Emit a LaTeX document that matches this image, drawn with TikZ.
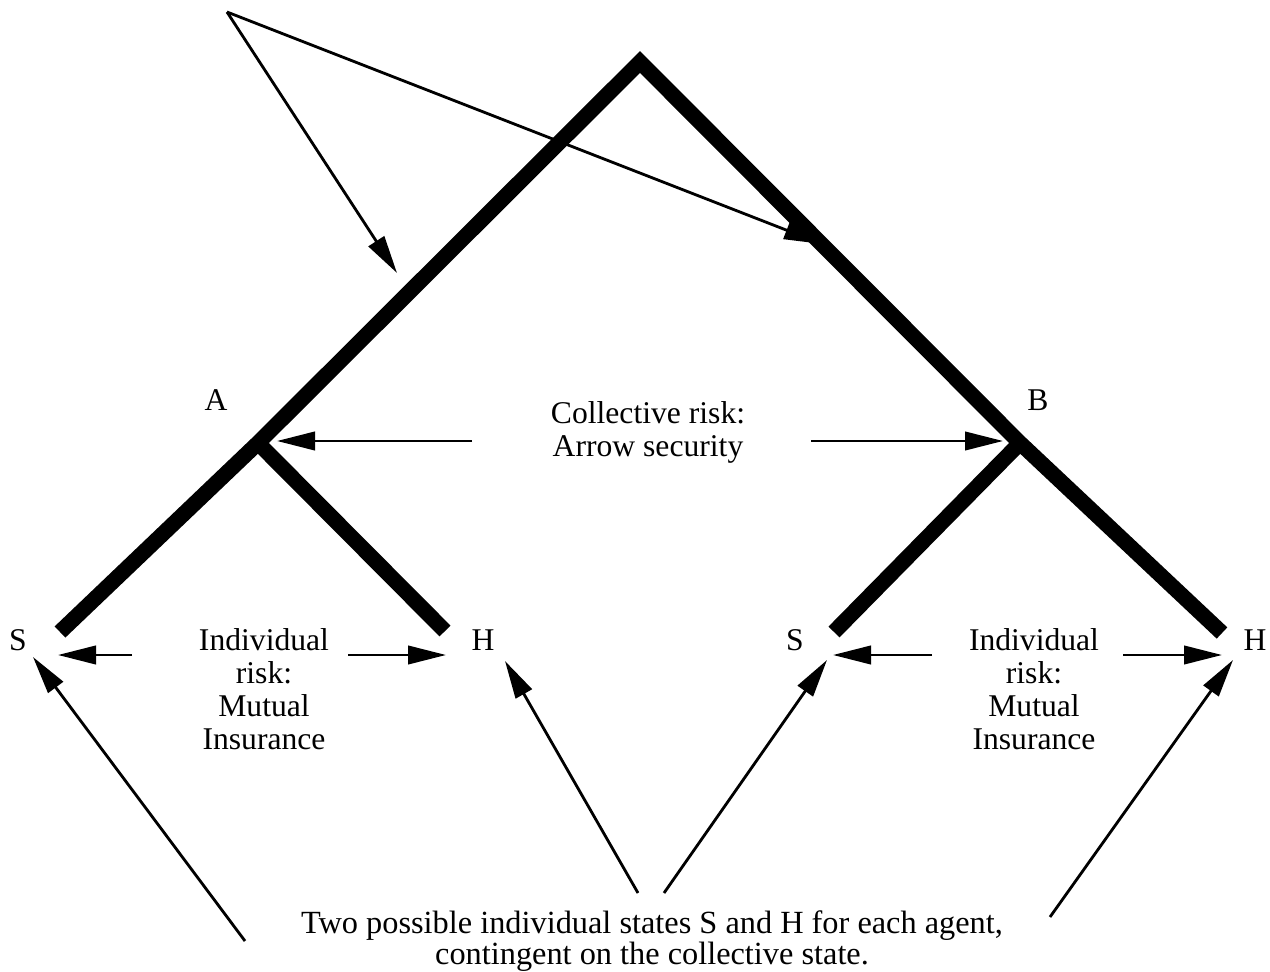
\documentclass[tikz,border=0pt]{standalone}
\usepackage{fontspec}
\setmainfont{Liberation Serif}
\usepackage{tikz}
\usetikzlibrary{arrows.meta}

\begin{document}
\begin{tikzpicture}[x=0.25mm,y=-0.25mm,
        branch/.style={line width=11pt,line join=miter},
        pointer/.style={line width=2pt,-{Triangle[length=9.5mm,width=4.6mm]}},
        lbl/.style={font=\fontsize{22.5}{23.5}\selectfont,inner sep=0pt},
        note/.style={font=\fontsize{22.5}{23.5}\selectfont,align=center,inner sep=0pt}]
        \useasboundingbox (0,0) rectangle (1270,972);

        \coordinate (top) at (640,62);
        \coordinate (A) at (258,443);
        \coordinate (B) at (1020,443);
        \coordinate (SA) at (60,632);
        \coordinate (HA) at (445,631);
        \coordinate (SB) at (834,632);
        \coordinate (HB) at (1222,633);

        \draw[branch] (SA) -- (A) -- (top) -- (B) -- (HB);
        \draw[branch] (A) -- (HA);
        \draw[branch] (B) -- (SB);

        \node[lbl] (labA) at (216,400) {A};
        \node[lbl] (labB) at (1038,400) {B};
        \node[lbl] (labSA) at (18,640) {S};
        \node[lbl] (labHA) at (483,640) {H};
        \node[lbl] (labSB) at (795,640) {S};
        \node[lbl] (labHB) at (1255,640) {H};

        \node[note] (coll) at (648,432) {Collective risk:\\Arrow security};
        \node[note] (indA) at (264,689) {Individual\\risk:\\Mutual\\Insurance};
        \node[note] (indB) at (1034,689) {Individual\\risk:\\Mutual\\Insurance};
        \node[note,font=\fontsize{23}{20}\selectfont] (foot) at (652,941)
            {Two possible individual states S and H for each agent,\\contingent on the collective state.};

        % collective risk
        \coordinate (cl) at (472,441);
        \coordinate (cr) at (811,441);
        \coordinate (tA) at (277,441);
        \coordinate (tB) at (1003,441);
        \draw[pointer] (cl) -- (tA);
        \draw[pointer] (cr) -- (tB);

        % individual risk
        \coordinate (al) at (132,655);
        \coordinate (ar) at (348,655);
        \coordinate (bl) at (932,655);
        \coordinate (br) at (1123,655);
        \coordinate (tSA) at (58,655);
        \coordinate (tHA) at (446,655);
        \coordinate (tSB) at (833,655);
        \coordinate (tHB) at (1222,655);
        \draw[pointer] (al) -- (tSA);
        \draw[pointer] (ar) -- (tHA);
        \draw[pointer] (bl) -- (tSB);
        \draw[pointer] (br) -- (tHB);

        % the two branches from the top
        \coordinate (org) at (227,12);
        \coordinate (t1) at (397,273);
        \coordinate (t2) at (822,244);
        \draw[pointer] (org) -- (t1);
        \draw[pointer] (org) -- (t2);

        % states S and H
        \coordinate (f1) at (245,941);
        \coordinate (f2) at (638,893);
        \coordinate (f3) at (664,893);
        \coordinate (f4) at (1050,917);
        \draw[pointer] (f1) -- (33,657);
        \draw[pointer] (f2) -- (505,661);
        \draw[pointer] (f3) -- (827,660);
        \draw[pointer] (f4) -- (1233,660);
\end{tikzpicture}
\end{document}
